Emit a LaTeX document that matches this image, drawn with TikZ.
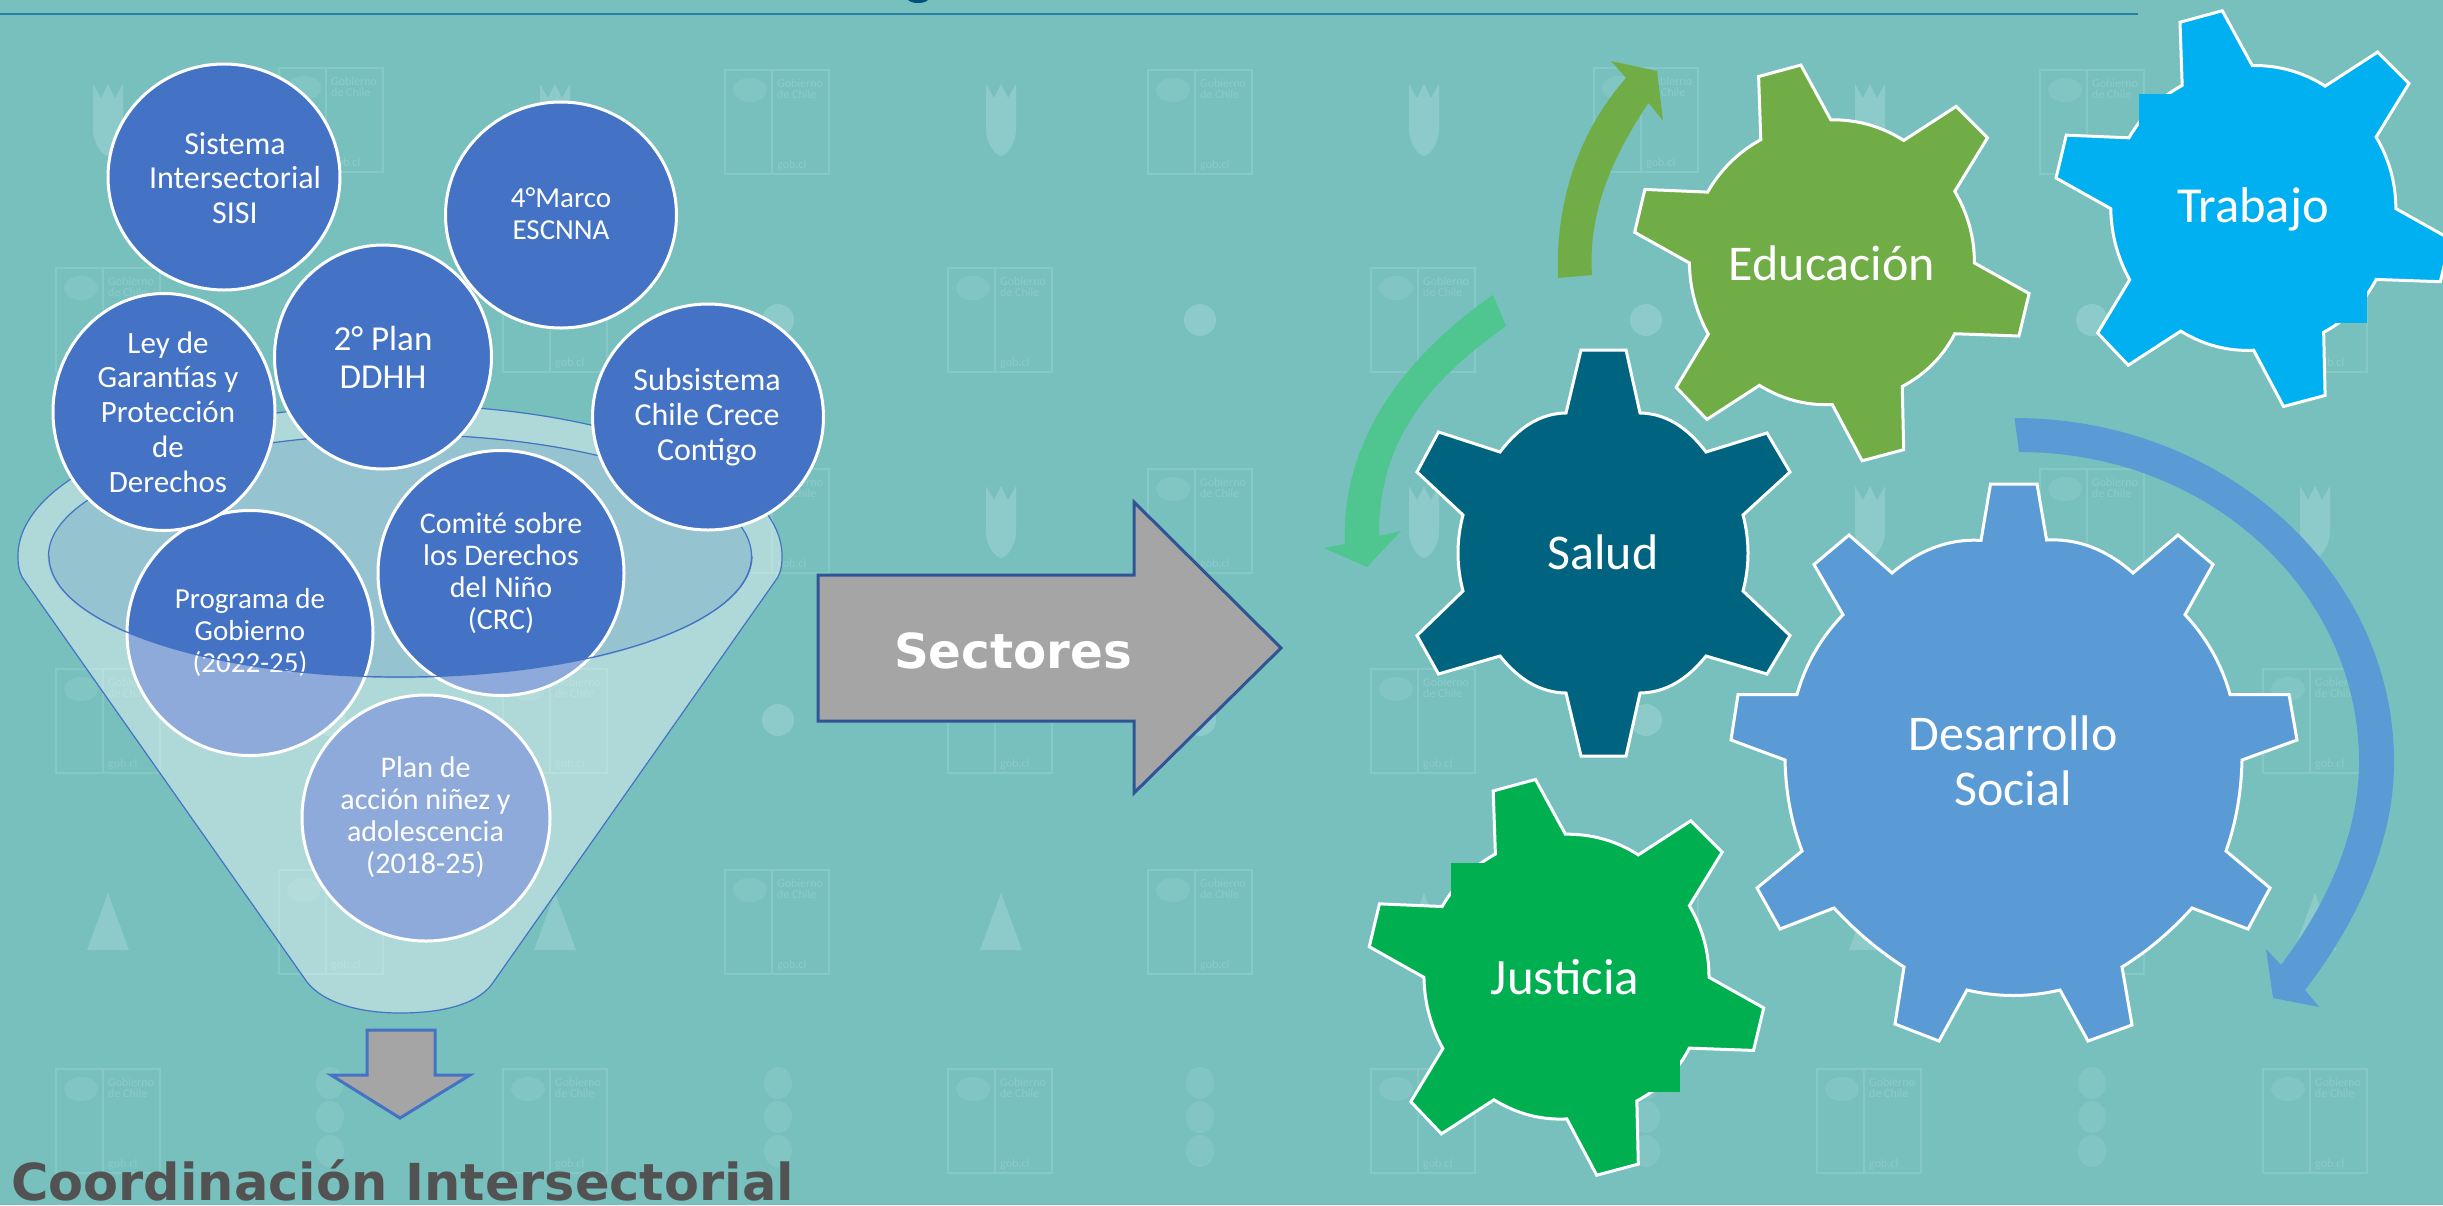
\documentclass[tikz,border=0pt]{standalone}
\usepackage{fontspec}
\usetikzlibrary{shapes.geometric,calc}
\setmainfont{Carlito}
\newfontfamily\dvfam{DejaVu Sans}
\definecolor{bgc}{HTML}{78C0BE}
\definecolor{wm}{HTML}{86C8C6}
\definecolor{wmf}{HTML}{8CCBC9}
\definecolor{wmc}{HTML}{82C6C4}
\definecolor{cblue}{HTML}{4472C4}
\definecolor{inner}{HTML}{96C3D0}
\definecolor{edc}{HTML}{70AD47}
\definecolor{trc}{HTML}{00B0F0}
\definecolor{juc}{HTML}{00B050}
\definecolor{sac}{HTML}{00637F}
\definecolor{dsc}{HTML}{5B9BD5}
\definecolor{tec}{HTML}{4FC58F}
\definecolor{grayc}{HTML}{A5A5A5}
\definecolor{lnc}{HTML}{2F5597}
\definecolor{topl}{HTML}{2A7FA8}
\definecolor{titc}{HTML}{00507A}
\tikzset{
  bub/.style={ellipse,draw=white,line width=3pt,fill=cblue,inner sep=0pt},
  bubt/.style={text=white,align=center,inner sep=0pt},
  gearline/.style={draw=white,line width=3pt,line join=miter},
  gearlab/.style={text=white,align=center,inner sep=0pt},
  funline/.style={draw=cblue,line width=1.2pt},
  wmline/.style={draw=wm,line width=2pt},
  wmshape/.style={fill=wmf},
  wmtext/.style={text=wmf,inner sep=0pt,align=left,font=\fontsize{12}{10.5}\selectfont},
}
% quadratic arc piece: from #1, control #2, to #3
\newcommand{\qc}[3]{.. controls ($(#1)!.6667!(#2)$) and ($(#3)!.6667!(#2)$) .. (#3)}
% Educacion-type gear; #1,#2 px offset, #3 colour
\newcommand{\edgear}[3]{%
\begin{scope}[shift={(1300+#1,#2)},x=.7291pt,y=-.3827pt]
\filldraw[gearline,fill=#3] (629,200) -- (687,170) -- (728,313) \qc{728,313}{783,312}{828,367}
 -- (900,278) -- (943,360) -- (898,500) \qc{898,500}{925,587}{925,687}
 -- (1000,767) -- (986,878) -- (898,872) \qc{898,872}{874,961}{826,1010}
 -- (828,1175) -- (771,1204) -- (730,1057) \qc{730,1057}{677,1062}{630,1007}
 -- (558,1096) -- (516,1012) -- (560,873) \qc{560,873}{535,787}{534,687}
 -- (459,607) -- (473,495) -- (559,502) \qc{559,502}{586,413}{632,365} -- cycle;
\end{scope}}
\begin{document}
\begin{tikzpicture}[x=1pt,y=-1pt]
\useasboundingbox (0,0) rectangle (2443,1205);
\clip (0,0) rectangle (2443,1205);
\fill[bgc] (0,0) rectangle (2443,1205);
% watermark logos
\foreach \xx/\yy in {279/68,725/70,1148/70,1594/68,2040/70,
  56/268,503/268,948/268,1371/268,1817/268,2263/268,
  279/469,725/469,1148/469,1594/469,2040/469,
  56/669,503/669,948/669,1371/669,1817/669,2263/669,
  279/870,725/870,1148/870,1594/870,2040/870,
  56/1069,503/1069,948/1069,1371/1069,1817/1069,2263/1069}{
  \draw[wmline] (\xx,\yy) rectangle ++(104,104);
  \draw[wmline] (\xx+47,\yy) -- ++(0,104);
  \fill[wmc] (\xx+25,\yy+20) ellipse[x radius=17,y radius=12];
  \node[wmtext,anchor=north west] at (\xx+52,\yy+9) {Gobierno\\de Chile};
  \node[wmtext,anchor=base west] at (\xx+52,\yy+98) {gob.cl};
}
\foreach \xx in {108,555,1001,1424,1870,2315}{
  \foreach \yy in {122,524}{
   \fill[wmshape] (\xx-15,\yy-38) -- (\xx-7,\yy-24) -- (\xx,\yy-38) -- (\xx+7,\yy-24) -- (\xx+15,\yy-38) -- (\xx+15,\yy+8) .. controls (\xx+15,\yy+20) and (\xx+7,\yy+33) .. (\xx,\yy+34) .. controls (\xx-7,\yy+33) and (\xx-15,\yy+20) .. (\xx-15,\yy+8) -- cycle;
  }
  \fill[wmshape] (\xx,893) -- (\xx+21,950) -- (\xx-21,950) -- cycle;
}
\foreach \xx in {330,778,1200,1646,2092}{
  \foreach \yy in {320,720}{\fill[wmshape] (\xx,\yy) ellipse[x radius=16,y radius=16];}
  \foreach \yy in {1083,1117,1151}{\fill[wmc] (\xx,\yy) ellipse[x radius=14,y radius=16];}
}
% top rule and the cut-off title descender
\coordinate (tl) at (0,14);
\coordinate (tr) at (2138,14);
\draw[topl,line width=2pt] (tl) -- (tr);
\fill[titc] (908,0) .. controls (912,4) and (924,4) .. (928,0) -- cycle;
% funnel back ring
\path[fill=white,fill opacity=.4] (18,556) .. controls (18,472) and (189,405) .. (400,405)
  .. controls (611,405) and (782,472) .. (782,556) -- (752,556)
  .. controls (752,489) and (594,434) .. (400,434) .. controls (206,434) and (49,489) .. (49,556) -- cycle;
\draw[funline] (18,556) .. controls (18,472) and (189,405) .. (400,405)
  .. controls (611,405) and (782,472) .. (782,556);
\node[ellipse,draw=cblue,line width=1.2pt,fill=inner,minimum width=703pt,minimum height=243pt,inner sep=0pt] (innerell) at (400,556) {};
% bubbles
\node[bub,minimum width=232pt,minimum height=226pt] (sisi) at (224,177) {};
\node[bubt,font=\fontsize{32}{34.7}\selectfont] (sisit) at (235,178) {Sistema\\Intersectorial\\SISI};
\node[bub,minimum width=231pt,minimum height=226pt] (marco) at (561,215) {};
\node[bubt,font=\fontsize{29}{32}\selectfont] (marcot) at (561,214) {4°Marco\\ESCNNA};
\node[bub,minimum width=231pt,minimum height=226pt] (sub) at (708,417) {};
\node[bubt,font=\fontsize{32}{34.7}\selectfont] (subt) at (707,417) {Subsistema\\Chile Crece\\Contigo};
\node[bub,minimum width=217pt,minimum height=224pt] (plan) at (383,357) {};
\node[bubt,font=\fontsize{35}{38}\selectfont] (plant) at (383,357) {2° Plan\\DDHH};
\node[bub,minimum width=246pt,minimum height=245pt] (prog) at (250,633) {};
\node[bubt,font=\fontsize{29}{32}\selectfont] (progt) at (250,632) {Programa de\\Gobierno\\(2022-25)};
\node[bub,minimum width=222pt,minimum height=237pt] (ley) at (164,412) {};
\node[bubt,font=\fontsize{31}{34.8}\selectfont] (leyt) at (168,412) {Ley de\\Garantías y\\Protección\\de\\Derechos};
\node[bub,minimum width=246pt,minimum height=245pt] (comite) at (501,573) {};
\node[bubt,font=\fontsize{30}{32}\selectfont] (comitet) at (501,573) {Comité sobre\\los Derechos\\del Niño\\(CRC)};
\node[bub,minimum width=248pt,minimum height=246pt] (accion) at (426,818) {};
\node[bubt,font=\fontsize{30}{32}\selectfont] (acciont) at (425.5,817) {Plan de\\acción niñez y\\adolescencia\\(2018-25)};
% funnel front
\path[fill=white,fill opacity=.4] (18,556) .. controls (18,565) and (19,571) .. (22,577) -- (307,982)
  .. controls (325,1005) and (365,1013) .. (400,1013) .. controls (435,1013) and (475,1007) .. (492,984)
  -- (778,577) .. controls (781,571) and (782,565) .. (782,556) -- (752,556)
  .. controls (752,623) and (594,677) .. (400,677) .. controls (206,677) and (49,623) .. (49,556) -- cycle;
\draw[funline] (18,556) .. controls (18,565) and (19,571) .. (22,577) -- (307,982)
  .. controls (325,1005) and (365,1013) .. (400,1013) .. controls (435,1013) and (475,1007) .. (492,984)
  -- (778,577) .. controls (781,571) and (782,565) .. (782,556);
\draw[funline] (752,556) .. controls (752,623) and (594,677) .. (400,677) .. controls (206,677) and (49,623) .. (49,556);
% down arrow
\filldraw[fill=grayc,draw=cblue,line width=3pt] (367,1030) -- (435,1030) -- (435,1075) -- (470,1075) -- (400,1118) -- (331,1075) -- (367,1075) -- cycle;
\node[anchor=base west,inner sep=0pt,text=black!68,font=\dvfam\bfseries\fontsize{51}{60}\selectfont] (coord) at (11,1200) {Coordinación Intersectorial};
% sectores arrow
\filldraw[fill=grayc,draw=lnc,line width=3pt] (818,575) -- (1134,575) -- (1134,502) -- (1281,648) -- (1134,793) -- (1134,721) -- (818,721) -- cycle;
\node[inner sep=0pt,text=white,font=\dvfam\bfseries\fontsize{48.3}{56}\selectfont] (sect) at (1013,651) {Sectores};
% curved arrows
\fill[edc] (1558,278) .. controls (1555,200) and (1580,130) .. (1626,78) -- (1611,61) -- (1657,71) -- (1663,120.5) -- (1648.5,103) .. controls (1610,160) and (1588,215) .. (1592,275) -- cycle;
\fill[tec] (1493,295) .. controls (1420,345) and (1340,430) .. (1345,544) -- (1324,548) -- (1367,567) -- (1401,531) -- (1379,536) .. controls (1378,440) and (1430,380) .. (1506,326) -- cycle;
\fill[dsc] (2014.5,418) .. controls (2224,418) and (2394,572) .. (2394,762) .. controls (2394,845) and (2355,925) .. (2305,990) -- (2319,1007) -- (2273,998) -- (2266,949) -- (2281,965) .. controls (2330,900) and (2359,830) .. (2359,762) .. controls (2359,591) and (2209,452) .. (2019,452) -- cycle;
% gears
\edgear{0}{0}{edc}
\node[gearlab,font=\fontsize{50}{55}\selectfont] (edu) at (1832,263) {Educación};
\edgear{421.4}{-54.3}{trc}
\fill[trc] (2138.5,94) rectangle (2367,322.6);
\node[gearlab,font=\fontsize{50.5}{55}\selectfont] (trab) at (2253,209) {Trabajo};
\edgear{-265.4}{714.4}{juc}
\fill[juc] (1451,863) rectangle (1680,1092);
\node[gearlab,font=\fontsize{51}{55}\selectfont] (just) at (1565,977) {Justicia};
\filldraw[gearline,fill=sac] (1581,350) -- (1626,350) -- (1640,413) \qc{1640,413}{1677,413.5}{1706,452} -- (1767,433) -- (1790,472) -- (1743,515) \qc{1743,515}{1753,553}{1743,591} -- (1790,635.5) -- (1767,674) -- (1706,656) \qc{1706,656}{1677,692.5}{1640,693} -- (1626,756) -- (1581,756) -- (1566,693) \qc{1566,693}{1529,692.5}{1500,656} -- (1438.5,674) -- (1417,635.5) -- (1463,591) \qc{1463,591}{1453,553}{1463,515} -- (1417,472) -- (1438.5,432) -- (1500,452) \qc{1500,452}{1529,413.5}{1566,413} -- cycle;
\node[gearlab,font=\fontsize{50}{55}\selectfont] (salud) at (1603,552) {Salud};
\filldraw[gearline,fill=dsc] (1990.5,484) -- (2037,484) -- (2046.6,540) \qc{2046.6,540}{2093,537.5}{2133,573} -- (2178,535) -- (2213,564.5) -- (2185,614.7) \qc{2185,614.7}{2217.5,649.4}{2230,694.5} -- (2289,694.5) -- (2297,740) -- (2242,760) \qc{2242,760}{2241,808.5}{2226,851} -- (2270,888) -- (2248,929) -- (2192,908) \qc{2192,908}{2160,943.5}{2122,967} -- (2132,1025) -- (2088,1041) -- (2060,990) \qc{2060,990}{2013.5,1001}{1967,990} -- (1939,1041) -- (1895,1024) -- (1904,967) \qc{1904,967}{1867,943.5}{1834,908} -- (1780,929) -- (1757,888) -- (1802,851) \qc{1802,851}{1786,808.5}{1785,760} -- (1731,740) -- (1738,694.5) -- (1797,694.5) \qc{1797,694.5}{1809.5,649.4}{1843,614.7} -- (1814,564.5) -- (1849,535) -- (1892,573) \qc{1892,573}{1934,537.5}{1981,540.4} -- cycle;
\node[gearlab,font=\fontsize{50}{55}\selectfont] (des) at (2013,761) {Desarrollo\\Social};
\end{tikzpicture}
\end{document}
